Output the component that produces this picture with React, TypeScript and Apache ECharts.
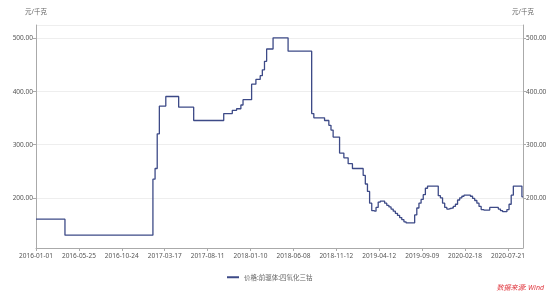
import React, { useEffect, useRef } from "react";
import * as echarts from "echarts";

// Tick-label dates shown on the x axis (every 20th category)
const tickDates = [
  "2016-01-01", "2016-05-25", "2016-10-24", "2017-03-17", "2017-08-11", "2018-01-10",
  "2018-06-08", "2018-11-12", "2019-04-12", "2019-09-09", "2020-02-18", "2020-07-21",
];
const STEPS_PER_TICK = 20;

// Price series (元/千克), one value per category
const priceA = [
  160, 160, 160, 160, 160, 160, 160, 160, 160, 160, 160, 160, 160, 160,
  130, 130, 130, 130, 130, 130, 130, 130, 130, 130, 130, 130, 130, 130, 130, 130, 130, 130, 130, 130,
  130, 130, 130, 130, 130, 130, 130, 130, 130, 130, 130, 130, 130, 130, 130, 130, 130, 130, 130, 130, 130,
  235, 255, 320, 372, 372, 372,
  390, 390, 390, 390, 390, 390,
  370, 370, 370, 370, 370, 370, 370,
  345, 345, 345, 345, 345, 345, 345, 345, 345, 345, 345, 345, 345, 345,
  358, 358, 358, 358, 364, 364, 367, 367, 374,
  384, 384, 384, 384, 413, 413, 422, 422, 429, 440, 456, 479, 479, 479,
];
const priceB = [
  500, 500, 500, 500, 500, 500, 500,
  475, 475, 475, 475, 475, 475, 475, 475, 475, 475, 475,
  358, 350, 350, 350, 350, 350, 345, 345, 336, 327, 314, 314, 314,
  284, 284, 275, 275, 264, 264, 255, 255, 255, 255, 255,
  242, 226, 212, 190, 176, 175, 182, 192, 194, 194,
  190, 186, 183, 179, 175, 171, 167, 163, 159, 155, 153, 153, 153, 153,
  168, 181, 190, 197, 206, 218, 222, 222, 222, 222, 222,
  204, 200, 190, 182, 179, 180, 181, 184, 188, 196, 200, 203, 205, 205, 205,
  203, 199, 195, 190, 184, 178, 177, 177, 177, 182, 182, 182, 182,
  179, 176, 174, 174, 178, 188, 205, 222, 222, 222, 222, 202,
];
const prices = [...priceA, ...priceB];

const seriesName = "价格:前驱体:四氧化三钴";
const unitName = "元/千克";
const sourceText = "数据来源: Wind";

function buildCategories(): string[] {
  const ms = tickDates.map((d) => Date.parse(d + "T00:00:00Z"));
  const out: string[] = [];
  for (let i = 0; i < prices.length; i++) {
    const seg = Math.min(Math.floor(i / STEPS_PER_TICK), ms.length - 2);
    const frac = (i - seg * STEPS_PER_TICK) / STEPS_PER_TICK;
    const t = ms[seg] + (ms[seg + 1] - ms[seg]) * frac;
    const k = i % STEPS_PER_TICK === 0 && i / STEPS_PER_TICK < tickDates.length
      ? tickDates[i / STEPS_PER_TICK]
      : new Date(Math.round(t / 86400000) * 86400000).toISOString().slice(0, 10);
    out.push(k);
  }
  return out;
}

const FONT = "'Noto Sans', 'Noto Sans CJK SC', sans-serif";

export default function App() {
  const ref = useRef<HTMLDivElement>(null);
  useEffect(() => {
    if (!ref.current) return;
    const chart = echarts.init(ref.current, undefined, { renderer: "svg" });
    const categories = buildCategories();
    const yAxisCommon = {
      type: "value" as const,
      min: 106,
      max: 524,
      name: unitName,
      nameGap: 10,
      nameTextStyle: { color: "#666", fontSize: 6.5, fontFamily: FONT },
      axisLine: { show: true, lineStyle: { color: "#aaa", width: 1 } },
      axisTick: { show: true, length: 3, lineStyle: { color: "#aaa" } },
      axisLabel: {
        color: "#555",
        fontSize: 6.5,
        fontFamily: FONT,
        margin: 3,
        showMinLabel: false,
        showMaxLabel: false,
        formatter: (v: number) => v.toFixed(2),
      },
      splitLine: { show: true, lineStyle: { color: "#eeeeee", width: 1 } },
    };
    chart.setOption({
      animation: false,
      textStyle: { fontFamily: FONT },
      grid: { left: 36, right: 35, top: 25, bottom: 50, containLabel: false },
      legend: {
        data: [seriesName],
        left: 222,
        top: 269,
        icon: "rect",
        itemWidth: 12,
        itemHeight: 2,
        itemGap: 4,
        textStyle: { color: "#666", fontSize: 6.5, fontFamily: FONT },
      },
      xAxis: {
        type: "category",
        data: categories,
        boundaryGap: false,
        axisLine: { lineStyle: { color: "#aaa", width: 1 } },
        axisTick: { show: true, interval: STEPS_PER_TICK - 1, length: 3, lineStyle: { color: "#aaa" } },
        axisLabel: {
          interval: STEPS_PER_TICK - 1,
          color: "#555",
          fontSize: 6.5,
          fontFamily: FONT,
          margin: 4,
        },
        splitLine: { show: false },
      },
      yAxis: [
        { ...yAxisCommon, position: "left" },
        { ...yAxisCommon, position: "right", splitLine: { show: false } },
      ],
      series: [
        {
          name: seriesName,
          type: "line",
          yAxisIndex: 0,
          data: prices,
          step: "middle",
          symbol: "none",
          showSymbol: false,
          lineStyle: { color: "#3d4a87", width: 1.3 },
          itemStyle: { color: "#3d4a87" },
        },
      ],
      graphic: [
        {
          type: "text",
          right: 14,
          top: 284,
          style: {
            text: sourceText,
            fill: "#e0353d",
            fontSize: 7,
            fontStyle: "italic",
            fontFamily: FONT,
          },
        },
      ],
    });
    return () => chart.dispose();
  }, []);
  return (
    <div
      ref={ref}
      style={{ position: "fixed", left: 0, top: 0, width: 558, height: 298 }}
    />
  );
}
